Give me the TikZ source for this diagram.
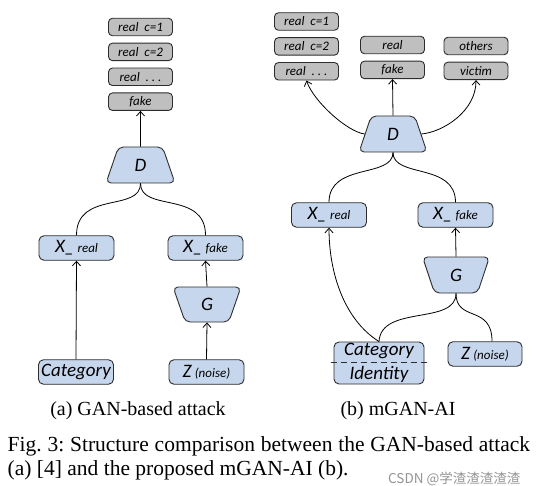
\documentclass[tikz,border=0pt]{standalone}
\usepackage{fontspec}
\setmainfont{Liberation Serif}
\newfontfamily\cali{Carlito}
\newfontfamily\cjkfont{Noto Sans CJK SC}
\usepackage{tikz}
\usetikzlibrary{shapes.geometric, arrows.meta, positioning}
\definecolor{cBlue}{RGB}{198,214,236}
\definecolor{cGray}{RGB}{191,191,191}
\definecolor{cEdge}{RGB}{45,45,45}
\newcommand\bigfont{\cali\itshape\fontsize{19}{19}\selectfont}
\newcommand\smallfont{\cali\itshape\fontsize{13}{15}\selectfont}
\newcommand\capfont{\fontsize{20}{23.5}\selectfont}
\newcommand\figfont{\frenchspacing\fontsize{21.5}{23.5}\selectfont}
\tikzset{
  outbox/.style={rectangle, rounded corners=4pt, draw=cEdge, fill=cGray,
                 line width=0.9pt, minimum width=64pt, minimum height=17.5pt,
                 inner sep=0pt, font=\smallfont},
  blkbox/.style={rectangle, rounded corners=5pt, draw=cEdge, fill=cBlue,
                 line width=0.9pt, minimum width=75pt, minimum height=24.5pt,
                 inner sep=0pt, font=\bigfont},
  trapnode/.style={trapezium, trapezium stretches=true, trapezium angle=75,
                   rounded corners=5pt, draw=cEdge, fill=cBlue, line width=0.9pt,
                   minimum width=69pt, minimum height=36pt, inner sep=0pt,
                   font=\bigfont},
  captext/.style={inner sep=0pt, font=\capfont},
  link/.style={line width=0.8pt, color=black},
  arrow/.style={link, -{Straight Barb[length=4.5pt,width=8pt]}},
  splitline/.style={line width=0.9pt, color=cEdge, dash pattern=on 6pt off 4pt}
}
\begin{document}
\begin{tikzpicture}[x=1pt, y=-1pt]
  \fill[white] (0,0) rectangle (537,486);
  \useasboundingbox (0,0) rectangle (537,486);

  % ── (a) GAN-based attack: outputs ──
  \node[outbox] (a_c1) at (140.5,27) {real~~c=1};
  \node[outbox, below=6.5pt of a_c1] (a_c2) {real~~c=2};
  \node[outbox, below=6.5pt of a_c2] (a_c3) {real~~.~.~.};
  \node[outbox, below=6.5pt of a_c3] (a_fake) {fake};

  % ── (a) networks and inputs ──
  \node[trapnode] (a_D) at (140.5,165) {D};
  \node[blkbox] (a_xr) at (76.5,248) {X\_\,{\smallfont real}};
  \node[blkbox] (a_xf) at (205.5,248) {X\_\,{\smallfont fake}};
  \node[trapnode, shape border rotate=180, minimum width=68pt, minimum height=35pt]
      (a_G) at (207,304.5) {G};
  \node[blkbox] (a_cat) at (76,372) {Category};
  \node[blkbox] (a_z) at (206.5,372) {Z\,{\smallfont(noise)}};

  % ── (b) mGAN-AI: outputs ──
  \node[outbox] (b_c1) at (306.5,21.5) {real~~c=1};
  \node[outbox, below=6.5pt of b_c1] (b_c2) {real~~c=2};
  \node[outbox, below=6.5pt of b_c2] (b_c3) {real~~.~.~.};
  \node[outbox] (b_real) at (392.5,45) {real};
  \node[outbox, below=6.5pt of b_real] (b_fake) {fake};
  \node[outbox] (b_oth) at (476,46) {others};
  \node[outbox, below=6.5pt of b_oth] (b_vic) {victim};

  % ── (b) networks and inputs ──
  \node[trapnode, minimum width=68pt] (b_D) at (393,134) {D};
  \node[blkbox] (b_xr) at (329,215) {X\_\,{\smallfont real}};
  \node[blkbox] (b_xf) at (455.5,215) {X\_\,{\smallfont fake}};
  \node[trapnode, shape border rotate=180, minimum width=67pt]
      (b_G) at (456,275) {G};
  \node[blkbox, minimum width=90pt, minimum height=42pt, align=center,
        font=\cali\itshape\fontsize{19}{21}\selectfont]
      (b_cat) at (379,363) {Category\\[3pt]Identity};
  \node[blkbox, minimum width=74pt] (b_z) at (485,354) {Z\,{\smallfont(noise)}};
  \draw[splitline] ([xshift=-3pt,yshift=0.5pt]b_cat.west) -- ([xshift=3pt,yshift=0.5pt]b_cat.east);

  % ── ARROWS (a) ──
  \draw[arrow] (a_D.north) -- (a_fake.south);
  \draw[link] (a_xr.north) .. controls +(0,-45) and +(0,29) .. (a_D.south);
  \draw[link] (a_xf.north) .. controls +(0,-45) and +(0,29) .. (a_D.south);
  \draw[arrow] (a_cat.north) -- (a_xr.south);
  \draw[arrow] (a_z.north) -- (a_G.south);
  \draw[arrow] (a_G.north) -- (a_xf.south);

  % ── ARROWS (b) ──
  \draw[arrow] (b_D.north) -- (b_fake.south);
  \draw[arrow] (b_D.west) .. controls +(-17,-2) and +(7,21) .. (b_c3.south);
  \draw[arrow] (b_D.east) .. controls +(22,-2) and +(0,31) .. (b_vic.south);
  \draw[link] (b_xr.north) .. controls +(0,-40) and +(0,26) .. (b_D.south);
  \draw[link] (b_xf.north) .. controls +(0,-40) and +(0,26) .. (b_D.south);
  \draw[arrow] (b_G.north) -- (b_xf.south);
  \draw[link] (b_cat.north) .. controls +(2,-37) and +(0,32) .. (b_G.south);
  \draw[link] ([xshift=7pt]b_z.north) .. controls +(0,-37) and +(0,29) .. (b_G.south);
  \draw[arrow] (b_cat.north) .. controls +(-35,-22) and +(0,45) .. (b_xr.south);

  % ── Captions ──
  \node[captext, anchor=base] (cap_a) at (138,415.7) {(a) GAN-based attack};
  \node[captext, anchor=base] (cap_b) at (398,415.7) {(b) mGAN-AI};
  \node[captext, font=\figfont, anchor=base west] (fig_l1) at (7.5,451.5)
      {\hbox to 522.5pt{Fig. 3: Structure comparison between the GAN-based attack}};
  \node[captext, font=\figfont, anchor=base west] (fig_l2) at (7.5,475)
      {(a) [4] and the proposed mGAN-AI (b).};
  \node[inner sep=0pt, anchor=base west, text=black!42,
        font=\cjkfont\fontsize{13.5}{15}\selectfont] (mark) at (388,483)
      {CSDN @学渣渣渣渣渣};
\end{tikzpicture}
\end{document}
